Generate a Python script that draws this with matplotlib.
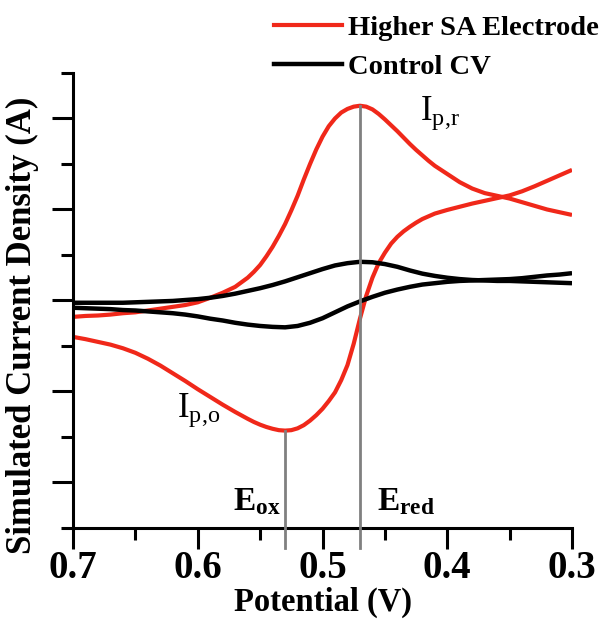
import matplotlib
matplotlib.use("Agg")
import matplotlib.pyplot as plt
from matplotlib.lines import Line2D

plt.rcParams["font.family"] = ["Liberation Serif", "DejaVu Serif"]
plt.rcParams["mathtext.fontset"] = "custom"
plt.rcParams["mathtext.rm"] = "Liberation Serif"
plt.rcParams["mathtext.it"] = "Liberation Serif:italic"
plt.rcParams["mathtext.bf"] = "Liberation Serif:bold"

# Potential sweep (V) for the higher-SA electrode, sampled more finely around the peaks
sa_potential = [0.70, 0.69, 0.68, 0.67, 0.66, 0.65, 0.64, 0.63, 0.62, 0.61,
                0.60, 0.59, 0.58, 0.57,
                0.560, 0.555, 0.550, 0.545, 0.540, 0.535, 0.530, 0.525, 0.520,
                0.515, 0.510, 0.505, 0.500, 0.495, 0.490, 0.485, 0.480, 0.475,
                0.470, 0.465, 0.460, 0.455, 0.450, 0.445, 0.440, 0.435, 0.430,
                0.425, 0.420, 0.415, 0.410, 0.405, 0.400,
                0.39, 0.38, 0.37, 0.36, 0.35, 0.34, 0.33, 0.32, 0.31, 0.30]

# Higher surface-area electrode: forward (reduction) and return (oxidation) branches
sa_forward = [-0.36, -0.34, -0.33, -0.31, -0.28, -0.26, -0.22, -0.18, -0.14, -0.10,
              -0.04, 0.06, 0.17, 0.30,
              0.50, 0.63, 0.78, 0.97, 1.18, 1.42, 1.68, 1.98, 2.30,
              2.66, 3.00, 3.32, 3.60, 3.83, 4.00, 4.13, 4.21, 4.26,
              4.28, 4.26, 4.20, 4.10, 3.98, 3.85, 3.72, 3.58, 3.44,
              3.31, 3.19, 3.07, 2.96, 2.87, 2.78,
              2.60, 2.46, 2.36, 2.30, 2.24, 2.16, 2.08, 2.00, 1.94, 1.88]
sa_return = [-0.80, -0.85, -0.91, -0.97, -1.05, -1.15, -1.28, -1.43, -1.60, -1.77,
             -1.95, -2.12, -2.29, -2.45,
             -2.60, -2.67, -2.73, -2.78, -2.82, -2.85, -2.86, -2.85, -2.81,
             -2.74, -2.64, -2.52, -2.38, -2.21, -2.02, -1.75, -1.42, -0.95,
             -0.40, 0.10, 0.50, 0.82, 1.05, 1.25, 1.40, 1.52, 1.62,
             1.71, 1.79, 1.85, 1.91, 1.95, 1.99,
             2.06, 2.13, 2.19, 2.25, 2.31, 2.40, 2.51, 2.63, 2.75, 2.87]

# Potential sweep (V) for the control electrode
ctrl_potential = [0.70, 0.69, 0.68, 0.67, 0.66, 0.65, 0.64, 0.63, 0.62, 0.61,
                  0.60, 0.59, 0.58, 0.57, 0.56, 0.55, 0.54, 0.53, 0.52, 0.51,
                  0.50, 0.49, 0.48, 0.47, 0.46, 0.45, 0.44, 0.43, 0.42, 0.41,
                  0.40, 0.39, 0.38, 0.37, 0.36, 0.35, 0.34, 0.33, 0.32, 0.31,
                  0.30]
ctrl_forward = [-0.05, -0.05, -0.05, -0.05, -0.05, -0.04, -0.03, -0.02, -0.01, 0.01,
                0.03, 0.06, 0.10, 0.15, 0.21, 0.27, 0.34, 0.42, 0.51, 0.60,
                0.69, 0.77, 0.82, 0.85, 0.84, 0.80, 0.74, 0.66, 0.59, 0.54,
                0.50, 0.47, 0.45, 0.44, 0.43, 0.43, 0.42, 0.41, 0.40, 0.39,
                0.38]
ctrl_return = [-0.16, -0.17, -0.18, -0.19, -0.21, -0.22, -0.24, -0.26, -0.28, -0.31,
               -0.35, -0.40, -0.44, -0.49, -0.53, -0.56, -0.58, -0.59, -0.56, -0.49,
               -0.39, -0.26, -0.13, -0.02, 0.08, 0.17, 0.24, 0.30, 0.35, 0.38,
               0.41, 0.43, 0.44, 0.45, 0.46, 0.47, 0.49, 0.52, 0.55, 0.57,
               0.60]

# Peak potentials
E_ox = 0.53
E_red = 0.47

x_ticks = [0.7, 0.6, 0.5, 0.4, 0.3]
x_tick_labels = ["0.7", "0.6", "0.5", "0.4", "0.3"]
x_minor = [0.65, 0.55, 0.45, 0.35]
y_major = [-4, -2, 0, 2, 4]
y_minor = [-5, -3, -1, 1, 3, 5]

red = "#f0281a"
black = "#000000"
grey = "#808080"

fig = plt.figure(figsize=(6.05, 6.2), dpi=100)
ax = fig.add_axes([0.1207, 0.1484, 0.8248, 0.7339])

ax.plot(sa_potential, sa_forward, color=red, lw=3.0, solid_capstyle="butt", zorder=2)
ax.plot(sa_potential, sa_return, color=red, lw=3.0, solid_capstyle="butt", zorder=2)
ax.plot(ctrl_potential, ctrl_forward, color=black, lw=3.2, solid_capstyle="butt", zorder=3)
ax.plot(ctrl_potential, ctrl_return, color=black, lw=3.2, solid_capstyle="butt", zorder=3)

# Peak markers dropped from each red peak to below the potential axis
i_ox = sa_potential.index(E_ox)
i_red = sa_potential.index(E_red)
ax.plot([E_ox, E_ox], [sa_return[i_ox], -5.45], color=grey, lw=2.0,
        clip_on=False, zorder=4)
ax.plot([E_red, E_red], [sa_forward[i_red], -5.45], color=grey, lw=2.0,
        clip_on=False, zorder=4)

ax.set_xlim(0.7, 0.3)
ax.set_ylim(-5, 5)

for side in ("top", "right"):
    ax.spines[side].set_visible(False)
for side in ("left", "bottom"):
    ax.spines[side].set_linewidth(2.2)

ax.set_xticks(x_ticks)
ax.set_xticklabels(x_tick_labels, fontsize=28, fontweight="bold")
ax.set_xticks(x_minor, minor=True)
ax.set_yticks(y_major)
ax.set_yticklabels([])
ax.set_yticks(y_minor, minor=True)
ax.tick_params(which="major", direction="out", length=15, width=2.2, pad=1)
ax.tick_params(which="minor", direction="out", length=8.5, width=2.2)

ax.set_xlabel("Potential (V)", fontsize=23.5, fontweight="bold", labelpad=0)
ax.set_ylabel("Simulated Current Density (A)", fontsize=25, fontweight="bold")
ax.yaxis.set_label_coords(-0.068, 0.445)

ax.text(0.422, 3.97, r"$\mathrm{I}_{\mathrm{p{,}r}}$", fontsize=25,
        ha="left", va="baseline")
ax.text(0.617, -2.56, r"$\mathrm{I}_{\mathrm{p{,}o}}$", fontsize=25,
        ha="left", va="baseline")
ax.text(0.572, -4.60, r"$\mathbf{E}_{\mathbf{ox}}$", fontsize=24,
        ha="left", va="baseline")
ax.text(0.456, -4.60, r"$\mathbf{E}_{\mathbf{red}}$", fontsize=24,
        ha="left", va="baseline")

handles = [Line2D([], [], color=red, lw=3.0),
           Line2D([], [], color=black, lw=3.2)]
fig.legend(handles, ["Higher SA Electrode", "Control CV"],
           loc="upper left", bbox_to_anchor=(0.453, 0.975), frameon=False,
           prop={"family": "Liberation Serif", "weight": "bold", "size": 20.5},
           handlelength=2.4, handletextpad=0.2, labelspacing=0.45,
           borderpad=0, borderaxespad=0)

fig.savefig("out.png", dpi=100)
